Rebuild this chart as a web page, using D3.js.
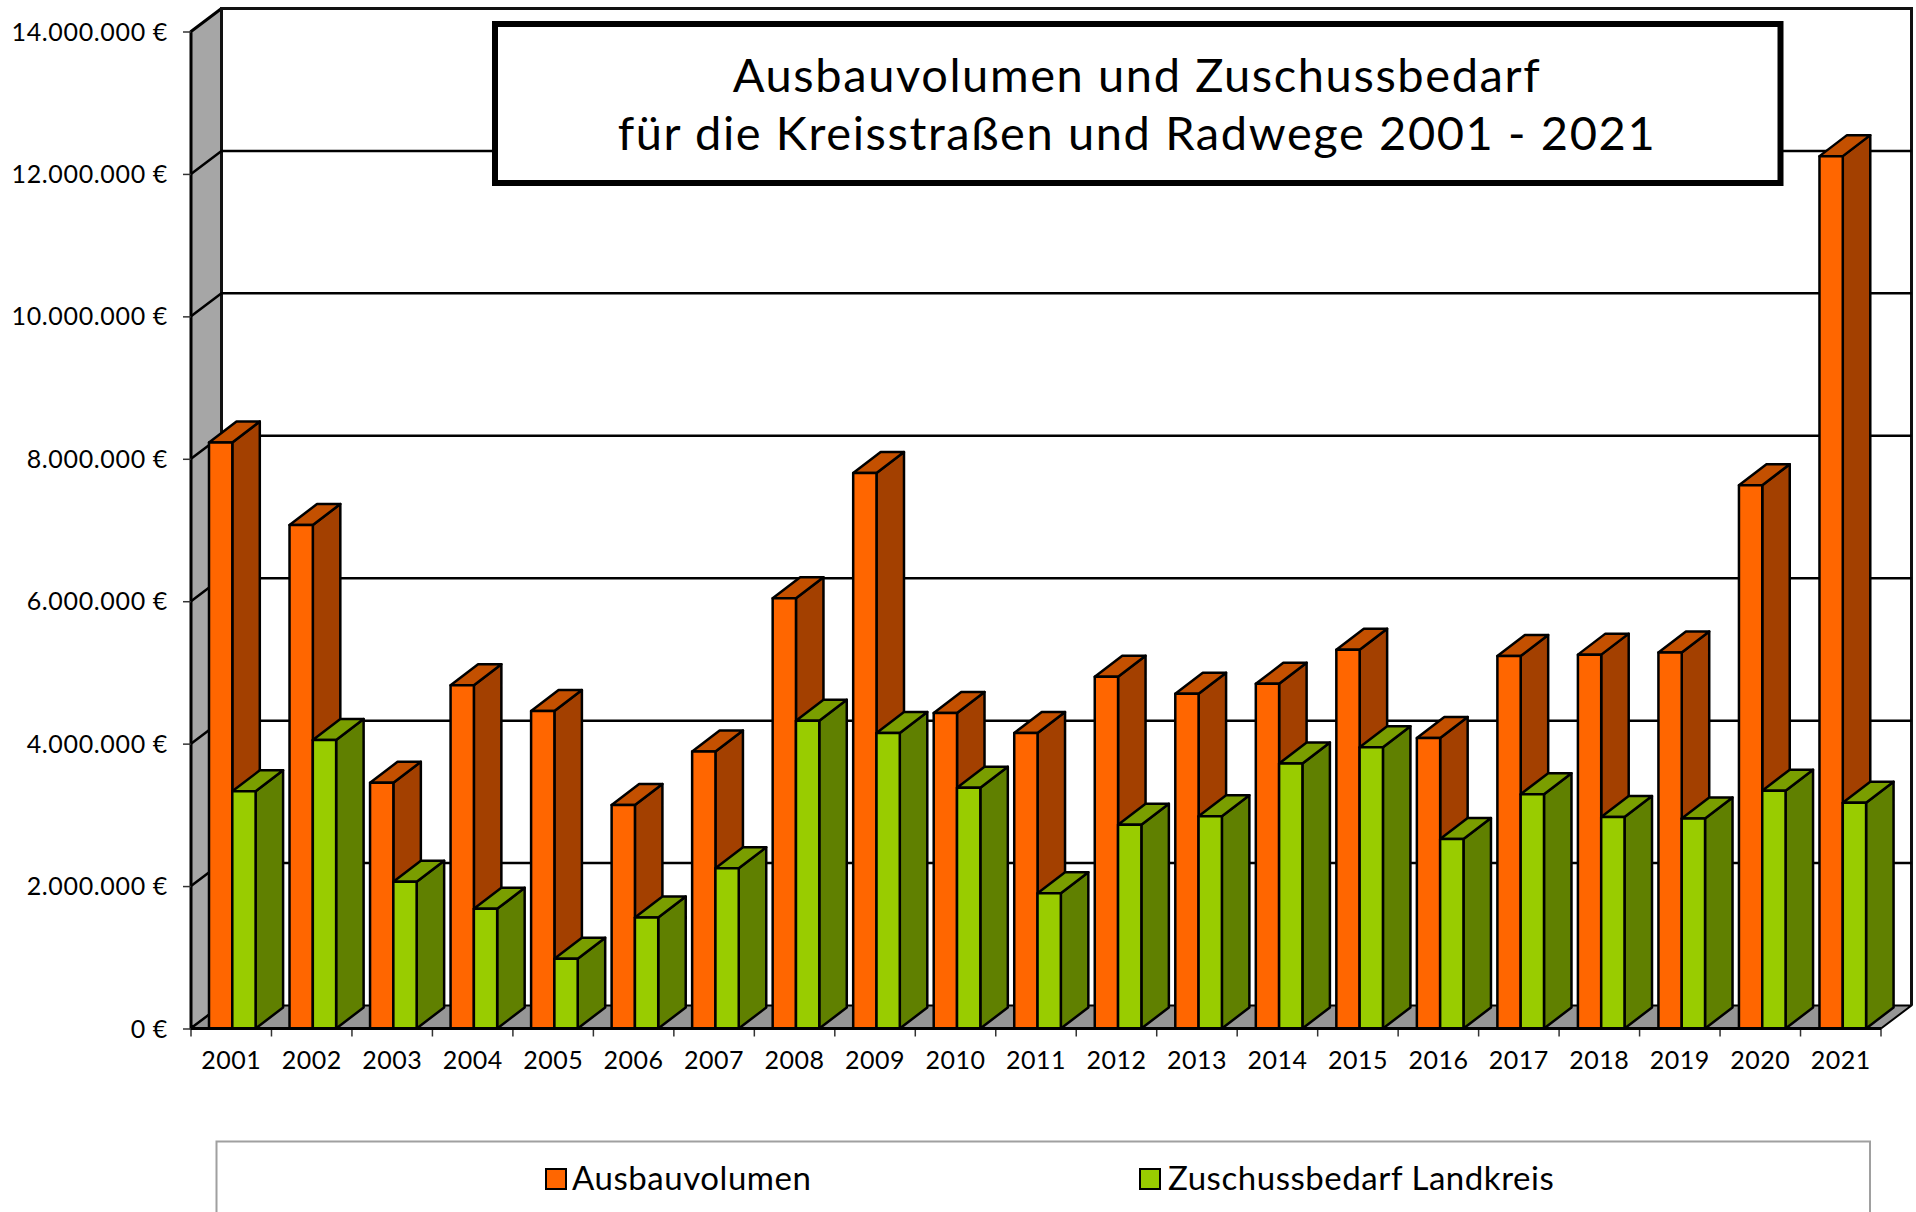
<!DOCTYPE html>
<html><head><meta charset="utf-8">
<script src="https://cdn.jsdelivr.net/npm/d3@7"></script>
<style>html,body{margin:0;padding:0;background:#fff;overflow:hidden}svg{display:block}text{font-family:Lato,sans-serif;fill:#000}</style>
</head><body><svg id="c" width="1916" height="1212"></svg>
<script>
const years = ["2001","2002","2003","2004","2005","2006","2007","2008","2009","2010","2011","2012","2013","2014","2015","2016","2017","2018","2019","2020","2021"];
const ausbau = [8230000,7070000,3450000,4820000,4460000,3140000,3890000,6040000,7800000,4430000,4150000,4940000,4700000,4840000,5320000,4080000,5230000,5250000,5280000,7630000,12250000];
const zuschuss = [3330000,4050000,2060000,1680000,980000,1560000,2250000,4320000,4150000,3380000,1900000,2860000,2980000,3720000,3950000,2660000,3290000,2970000,2950000,3340000,3170000];
const yTicks = [0,2000000,4000000,6000000,8000000,10000000,12000000,14000000];
const titleLines = ["Ausbauvolumen und Zuschussbedarf","für die Kreisstraßen und Radwege 2001 - 2021"];
const seriesNames = ["Ausbauvolumen","Zuschussbedarf Landkreis"];

const svg = d3.select("#c");
const X0=191,X1=1881,Y0=1028.5,Y1=31.5,DX=30.5,DY=23;
const x = d3.scaleBand().domain(years).range([X0,X1]);
const xBars = d3.scaleBand().domain(years).range([X0+18,X1+19]);
const y = d3.scaleLinear().domain([0,14000000]).range([Y0,Y1]);
const fmt = d3.formatLocale({decimal:",",thousands:".",grouping:[3],currency:["","€"]}).format(",.0f");

// walls
const poly=(pts,fill,stroke,sw)=>svg.append("polygon").attr("points",pts.map(p=>p.join(",")).join(" ")).attr("fill",fill).attr("stroke",stroke||"none").attr("stroke-width",sw||0).attr("stroke-linejoin","round");
poly([[X0,Y0],[X0+DX,Y0-DY],[X0+DX,Y1-DY],[X0,Y1]],"#a6a6a6","#000",3);
poly([[X0,Y0],[X0+DX,Y0-DY],[X1+DX,Y0-DY],[X1,Y0]],"#969696","#000",2);
svg.append("path").attr("d",`M${X0+DX},${Y0-DY}V${Y1-DY}H${X1+DX}V${Y0-DY}`).attr("fill","none").attr("stroke","#111").attr("stroke-width",3);
yTicks.slice(1,-1).forEach(v=>{
  svg.append("path").attr("d",`M${X0},${y(v)}L${X0+DX},${y(v)-DY}H${X1+DX}`).attr("fill","none").attr("stroke","#000").attr("stroke-width",2.5);
});

// axes
const yAxis = d3.axisLeft(y).tickValues(yTicks).tickSize(8).tickPadding(15).tickFormat(d=>fmt(d)+" €");
const gy = svg.append("g").attr("transform",`translate(${X0},0)`).call(yAxis);
gy.select(".domain").remove();
gy.selectAll("line").attr("stroke","#333").attr("stroke-width",1.5);
gy.selectAll("text").style("font-size","25px").style("letter-spacing","0.65px").attr("y",0.5).attr("fill","#000");
const xAxis = d3.axisBottom(x).tickSize(0).tickPadding(22.5);
const gx = svg.append("g").attr("transform",`translate(0,${Y0})`).call(xAxis);
gx.select(".domain").remove();
gx.selectAll("text").style("font-size","25px").style("letter-spacing","0.5px").attr("fill","#000");
const edges = years.map(d=>x(d)).concat([X1]);
svg.append("g").selectAll("line").data(edges).join("line").attr("x1",d=>d).attr("x2",d=>d).attr("y1",Y0).attr("y2",Y0+8).attr("stroke","#333").attr("stroke-width",1.5);

// bars
const BW=23.3,SW=2.5,SDX=DX-3,SDY=DY-2;
function bar(xp,val,c){
  const t=y(val),b=Y0,r=xp+BW;
  poly([[r,b],[r+SDX,b-SDY],[r+SDX,t-SDY],[r,t]],c[1],"#000",SW);
  poly([[xp,t],[xp+SDX,t-SDY],[r+SDX,t-SDY],[r,t]],c[2],"#000",SW);
  poly([[xp,b],[xp,t],[r,t],[r,b]],c[0],"#000",SW);
}
const orange=["#ff6600","#a34000","#c45000"], green=["#99cc00","#608000","#7a9e00"];
years.forEach((yr,i)=>{
  bar(xBars(yr),ausbau[i],orange);
  bar(xBars(yr)+BW,zuschuss[i],green);
});
svg.append("line").attr("x1",X0).attr("x2",X1).attr("y1",Y0).attr("y2",Y0).attr("stroke","#000").attr("stroke-width",3);

// title
svg.append("rect").attr("x",495).attr("y",24).attr("width",1285.5).attr("height",159).attr("fill","#fff").attr("stroke","#000").attr("stroke-width",6);
titleLines.forEach((t,i)=>svg.append("text").attr("x",1137).attr("y",92+i*58).attr("text-anchor","middle").style("font-size","47px").style("letter-spacing","1.6px").text(t));

// legend
svg.append("path").attr("d","M216.5,1212V1141.5H1870V1212").attr("fill","none").attr("stroke","#a0a0a0").attr("stroke-width",2);
[[545,572],[1139,1168]].forEach((p,i)=>{
  svg.append("rect").attr("x",p[0]+1).attr("y",1169).attr("width",20).attr("height",20).attr("fill",i?green[0]:orange[0]).attr("stroke","#000").attr("stroke-width",2);
  svg.append("text").attr("x",p[1]).attr("y",1190).style("font-size","33px").style("letter-spacing","0.55px").text(seriesNames[i]);
});
</script></body></html>
